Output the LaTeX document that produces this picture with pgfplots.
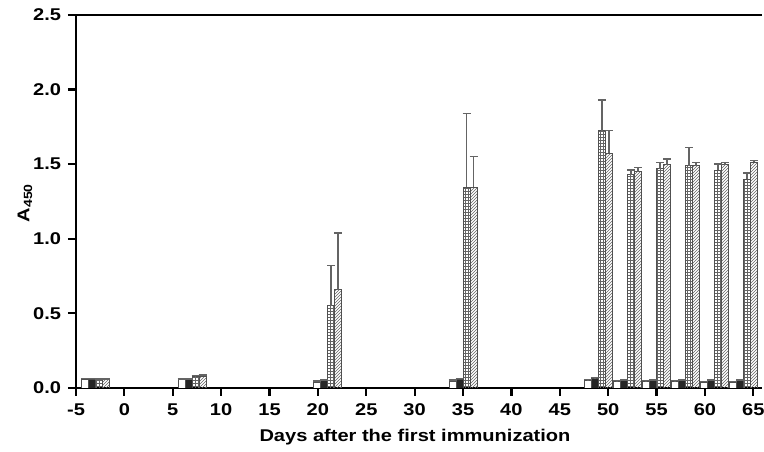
\documentclass[border=0pt]{standalone}
\usepackage{fontspec}
\setmainfont{Liberation Sans}[FakeStretch=1.18]
\usepackage{pgfplots}
\usepackage{pgfplotstable}
\pgfplotsset{compat=1.18}
\usetikzlibrary{patterns}
\definecolor{edge}{RGB}{80,80,80}
\definecolor{errc}{RGB}{100,100,100}

% day, open, filled, checkered, hatched (mean and upper error)
\pgfplotstableread{
day  w      we     b      be     c      ce     h      he
-3   0.060  0.004  0.060  0.004  0.055  0.005  0.055  0.005
7    0.055  0.004  0.055  0.004  0.075  0.008  0.080  0.008
21   0.040  0.008  0.050  0.004  0.550  0.270  0.660  0.380
35   0.045  0.008  0.060  0.004  1.345  0.495  1.345  0.205
49   0.050  0.006  0.065  0.004  1.725  0.205  1.573  0.152
52   0.045  0.004  0.050  0.004  1.430  0.030  1.450  0.026
55   0.045  0.004  0.050  0.004  1.470  0.040  1.495  0.040
58   0.045  0.004  0.050  0.004  1.490  0.120  1.490  0.020
61   0.040  0.004  0.050  0.004  1.460  0.040  1.495  0.015
64   0.040  0.004  0.050  0.004  1.400  0.040  1.515  0.010
}\immtable

\begin{document}
\fontsize{17}{20}\selectfont\bfseries
\begin{tikzpicture}
\begin{axis}[
  at={(0,0)}, anchor=south west,
  scale only axis,
  width=686pt, height=373pt,
  xmin=-5, xmax=65.9,
  ymin=0, ymax=2.5,
  axis x line*=box,
  axis y line*=left,
  xtick={-5,0,...,65},
  ytick={0,0.5,...,2.5},
  xtick pos=bottom,
  ytick pos=left,
  tick align=outside,
  major tick length=8pt,
  axis line style={line width=2.4pt,-},
  tick style={line width=2.2pt,black},
  /pgf/number format/assume math mode=true,
  yticklabel style={/pgf/number format/fixed,/pgf/number format/fixed zerofill,/pgf/number format/precision=1,xshift=-1pt},
  xticklabel style={yshift=-2pt},
  ticklabel style={font=\fontsize{17}{20}\selectfont\bfseries},
  bars/.style={ybar,bar width=7pt,draw=edge,line width=0.9pt},
  errs/.style={draw=none,no markers,forget plot,
    error bars/.cd,y dir=plus,y explicit,
    error bar style={draw=errc,line width=1.4pt},
    error mark options={draw=errc,line width=1.4pt,mark size=4pt,rotate=90}},
]
\addplot[bars,bar shift=-10.5pt,fill=white] table[x=day,y=w] {\immtable};
\addplot[bars,bar shift=-3.5pt,fill=black!85] table[x=day,y=b] {\immtable};
\addplot[bars,bar shift=3.5pt,pattern=grid,pattern color=errc] table[x=day,y=c] {\immtable};
\addplot[bars,bar shift=10.5pt,pattern=north east lines,pattern color=errc] table[x=day,y=h] {\immtable};
% error bars at the centres of the bars (7pt = 0.724 day)
\addplot[errs] table[x expr=\thisrow{day}-1.086,y=w,y error=we] {\immtable};
\addplot[errs] table[x expr=\thisrow{day}-0.362,y=b,y error=be] {\immtable};
\addplot[errs] table[x expr=\thisrow{day}+0.362,y=c,y error=ce] {\immtable};
\addplot[errs] table[x expr=\thisrow{day}+1.086,y=h,y error=he] {\immtable};
\end{axis}
\node[rotate=90] at (-51pt,185pt) {A\textsubscript{450}};
\node at (339pt,-49pt) {Days after the first immunization};
\pgfresetboundingbox
\path (-76pt,-64pt) rectangle (688pt,388pt);
\end{tikzpicture}
\end{document}
